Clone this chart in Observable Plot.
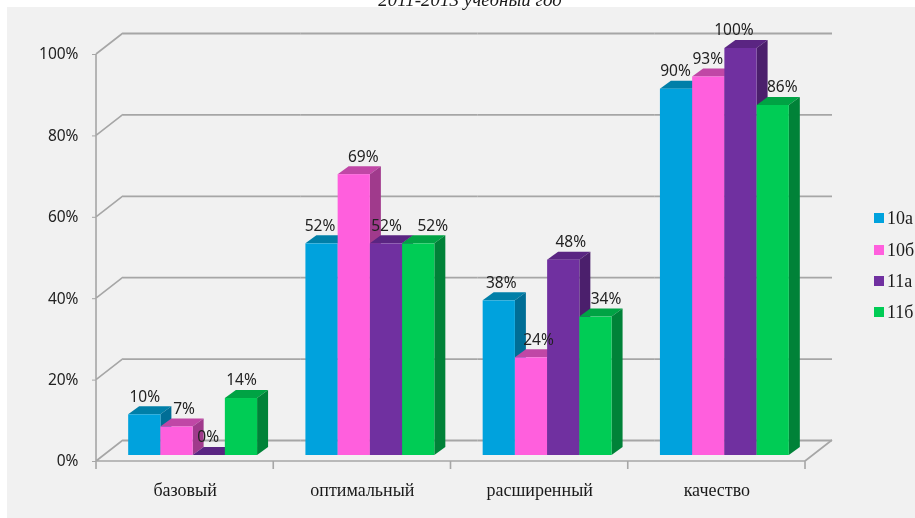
<!DOCTYPE html>
<html lang="ru">
<head>
<meta charset="utf-8">
<script src="https://cdn.jsdelivr.net/npm/d3@7"></script>
<script src="https://cdn.jsdelivr.net/npm/@observablehq/plot@0.6"></script>
<style>
  html, body { margin: 0; padding: 0; background: #fff; overflow: hidden; }
  #stage { position: relative; width: 915px; height: 518px; overflow: hidden; filter: blur(0.35px); }
  #panel { position: absolute; left: 7px; top: 7px; width: 908px; height: 511px; background: #f1f1f1; }
  #title { position: absolute; left: 368px; width: 204px; top: -10px; text-align: center; white-space: nowrap;
           font: italic 19px/20px "Liberation Serif", serif; color: #1a1a1a; }
  #chart { position: absolute; left: 0; top: 0; }
  #chart svg { background: transparent; display: block; }
  #legend { position: absolute; left: 874px; top: 0; font: 18px "Liberation Serif", serif; color: #1a1a1a; }
  #legend div { position: absolute; left: 0; height: 18px; line-height: 18px; white-space: nowrap; }
  #legend i { position: absolute; left: 0; top: 4px; width: 9.5px; height: 9.5px; }
  #legend span { position: absolute; left: 13px; }
</style>
</head>
<body>
<div id="stage">
  <div id="panel"></div>
  <div id="title">2011-2013 учебный год</div>
  <div id="chart"></div>
  <div id="legend"></div>
</div>
<script>
const categories = ["базовый", "оптимальный", "расширенный", "качество"];
const seriesNames = ["10а", "10б", "11а", "11б"];
const values10a = [0.10, 0.52, 0.38, 0.90];
const values10b = [0.07, 0.69, 0.24, 0.93];
const values11a = [0.00, 0.52, 0.48, 1.00];
const values11b = [0.14, 0.52, 0.34, 0.86];
const yTicks = [0, 0.2, 0.4, 0.6, 0.8, 1];

const frontColors = ["#00a2dd", "#ff5fdd", "#7030a0", "#00cc55"];
const topColors = ["#007fa8", "#c047a6", "#5a2582", "#00a344"];
const sideColors = ["#006e96", "#a03a8c", "#4b1f6c", "#008238"];
/* nudges of the data labels, series by category, as placed in the original */
const labelNudge = [[0, -2, 2, -1], [7, 9, 7, -1], [-1, 0, 7, -7], [0, 14, 10, 9]];

const allValues = [values10a, values10b, values11a, values11b];
const table = seriesNames.flatMap((s, i) =>
  categories.map((c, j) => ({category: c, series: s, value: allValues[i][j], nudge: labelNudge[i][j]})));

/* oblique projection of the chart box and of the bars */
const wall = {dx: 27, dy: -21};
const barShift = {dx: 8, dy: -6};
const barDepth = {dx: 11, dy: -8};
const ink = "#a6a6a6";
const sans = '"Noto Sans", sans-serif';
const serif = '"Liberation Serif", serif';

/* turns each bar's rect into the side or top face of a box */
function face(kind) {
  return function (index, scales, values, dimensions, context, next) {
    const g = next(index, scales, values, dimensions, context);
    g.querySelectorAll("rect").forEach((r) => {
      const x = +r.getAttribute("x"), y = +r.getAttribute("y");
      const w = +r.getAttribute("width"), h = +r.getAttribute("height");
      const {dx, dy} = barDepth;
      const d = kind === "side"
        ? `M${x + w},${y}L${x + w + dx},${y + dy}L${x + w + dx},${y + h + dy}L${x + w},${y + h}Z`
        : `M${x},${y}L${x + dx},${y + dy}L${x + w + dx},${y + dy}L${x + w},${y}Z`;
      const p = document.createElementNS("http://www.w3.org/2000/svg", "path");
      p.setAttribute("d", d);
      r.replaceWith(p);
    });
    return g;
  };
}

/* walls of the box: slants from the front edge to the back grid lines, category ticks.
   The plot calls this once per facet; it draws the single frame on the first call. */
let frameDrawn = false;
function boxFrame(index, scales, values, dimensions) {
  if (frameDrawn) return null;
  frameDrawn = true;
  const {marginLeft: l, height, marginBottom} = dimensions;
  const step = scales.fx(categories[1]) - scales.fx(categories[0]);
  const r = scales.fx(categories[categories.length - 1]) + step;
  const b = height - marginBottom;
  const g = d3.create("svg:g").attr("fill", "none").attr("stroke", ink).attr("stroke-width", 1.6);
  const parts = yTicks.map((t) => `M${l},${scales.y(t)}L${l + wall.dx},${scales.y(t) + wall.dy}`);
  parts.push(`M${r},${b}L${r + wall.dx},${b + wall.dy}`);
  parts.push(`M${l},${scales.y(1)}L${l},${b}`);
  parts.push(`M${l},${b}L${r},${b}`);
  categories.forEach((c) => parts.push(`M${scales.fx(c)},${b}V${b + 8}`));
  parts.push(`M${r},${b}V${b + 8}`);
  g.append("path").attr("d", parts.join(""));
  return g.node();
}

const bars = seriesNames.flatMap((s, i) => {
  const rows = table.filter((d) => d.series === s);
  const opts = {fx: "category", x: "series", y: "value", dx: barShift.dx, dy: barShift.dy};
  return [
    Plot.barY(rows, {...opts, fill: topColors[i], render: face("top")}),
    Plot.barY(rows, {...opts, fill: sideColors[i], render: face("side")}),
    Plot.barY(rows, {...opts, fill: frontColors[i]})
  ];
});

const labels = table.map((d) =>
  Plot.text([d], {
    fx: "category", x: "series", y: "value",
    text: (v) => d3.format(".0%")(v.value),
    dx: barShift.dx + d.nudge, dy: barShift.dy - 18,
    fontFamily: sans, fontSize: 15.5, fill: "#222"
  }));

const chart = Plot.plot({
  width: 915, height: 518,
  marginLeft: 96, marginRight: 110, marginTop: 54, marginBottom: 57,
  style: {background: "transparent", overflow: "hidden"},
  y: {domain: [0, 1], axis: null},
  x: {domain: seriesNames, paddingInner: 0, paddingOuter: 0.75, round: false, axis: null},
  fx: {domain: categories, padding: 0, round: false, axis: null, label: null},
  marks: [
    Plot.ruleY(yTicks, {dx: wall.dx, dy: wall.dy, stroke: ink, strokeWidth: 1.8}),
    boxFrame,
    ...bars,
    ...labels,
    Plot.axisY({
      ticks: yTicks, tickFormat: d3.format(".0%"), label: null, tickSize: 4, tickPadding: 14,
      stroke: ink, fontFamily: sans, fontSize: 15.5, fill: "#222", facetAnchor: "left"
    }),
    Plot.text(categories, {
      fx: (d) => d, text: (d) => d, frameAnchor: "bottom", dy: 34,
      fontFamily: serif, fontSize: 18, fill: "#1a1a1a"
    })
  ]
});
document.getElementById("chart").append(chart);

const legend = document.getElementById("legend");
const legendTops = [209, 241, 272, 303];
seriesNames.forEach((s, i) => {
  const row = document.createElement("div");
  row.style.top = legendTops[i] + "px";
  row.innerHTML = `<i style="background:${frontColors[i]}"></i><span>${s}</span>`;
  legend.append(row);
});
</script>
</body>
</html>
